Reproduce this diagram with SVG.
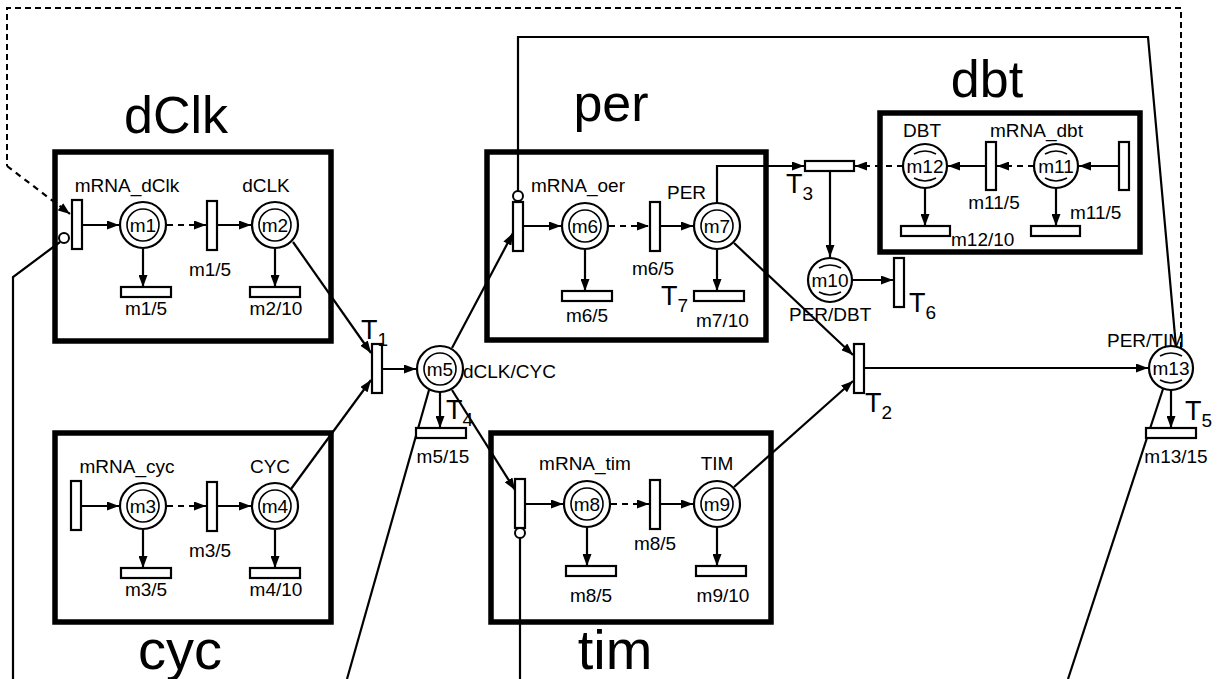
<svg xmlns="http://www.w3.org/2000/svg" width="1229" height="679" viewBox="0 0 1229 679">
<defs>
<marker id="ah" viewBox="0 0 12 9" refX="12" refY="4.5" markerWidth="12" markerHeight="9" markerUnits="userSpaceOnUse" orient="auto"><path d="M0,0 L12,4.5 L0,9 z" fill="#000"/></marker>
<style>
.box{fill:none;stroke:#000;stroke-width:5.5}
.tr{fill:#fff;stroke:#000;stroke-width:2.2}
.pl{fill:#fff;stroke:#000;stroke-width:2.2}
.in{fill:none;stroke:#000;stroke-width:1.6}
.ln{fill:none;stroke:#000;stroke-width:2.2}
.ar{fill:none;stroke:#000;stroke-width:2.2;marker-end:url(#ah)}
.da{fill:none;stroke:#000;stroke-width:2.2;stroke-dasharray:6,5;marker-end:url(#ah)}
.dl{fill:none;stroke:#000;stroke-width:2;stroke-dasharray:6,4}
.inh{fill:#fff;stroke:#000;stroke-width:2}
text{font-family:"Liberation Sans",Arial,sans-serif;fill:#000}
.t{font-size:19px}
.c{font-size:19px;text-anchor:middle}
.big{font-size:52px;text-anchor:middle}
.bot{font-size:56px;text-anchor:middle}
.T{font-size:27px}
.s{font-size:19px}
</style>
</defs>
<rect width="1229" height="679" fill="#fff"/>

<g id="connectors">
<path class="dl" d="M1181,348 V8 H7 V166"/>
<path class="da" d="M7,166 L70,214"/>
<path class="ln" d="M60,242 L13,277 V679"/>
<path class="ln" d="M518,191 V37 H1148 L1176,347"/>
<path class="ln" d="M520,538 V679"/>
<path class="ln" d="M429,390 L347,679"/>
<path class="ln" d="M1163,389 L1068,679"/>
<path class="ar" d="M293,242 L371,353"/>
<path class="ar" d="M291,489 L371,380"/>
<path class="ar" d="M382,369 L416,369"/>
<path class="ar" d="M452,348 L513,233"/>
<path class="ar" d="M452,390 L515,490"/>
<path class="ar" d="M440,392 L440,428"/>
<path class="ar" d="M717,203 V166 H804"/>
<path class="da" d="M903,166 H855"/>
<path class="ar" d="M830,171 V257"/>
<path class="ar" d="M852,280 H893"/>
<path class="ar" d="M734,243 L853,355"/>
<path class="ar" d="M734,487 L853,381"/>
<path class="ar" d="M864,368 H1148"/>
<path class="ar" d="M1171,390 V428"/>
<path class="ar" d="M82,225 H119"/>
<path class="da" d="M167,225 H206"/>
<path class="ar" d="M217,225 H251"/>
<path class="ar" d="M143,249 V287"/>
<path class="ar" d="M275,249 V287"/>
<path class="ar" d="M82,506 H119"/>
<path class="da" d="M167,506 H206"/>
<path class="ar" d="M217,506 H251"/>
<path class="ar" d="M143,530 V568"/>
<path class="ar" d="M275,530 V568"/>
<path class="ar" d="M523,226 H561"/>
<path class="da" d="M609,226 H649"/>
<path class="ar" d="M660,226 H693"/>
<path class="ar" d="M585,250 V291"/>
<path class="ar" d="M717,250 V291"/>
<path class="ar" d="M525,504 H563"/>
<path class="da" d="M611,504 H649"/>
<path class="ar" d="M660,504 H693"/>
<path class="ar" d="M587,528 V566"/>
<path class="ar" d="M717,528 V566"/>
<path class="ar" d="M1119,166 H1079"/>
<path class="da" d="M1034,166 H997"/>
<path class="ar" d="M986,166 H948"/>
<path class="ar" d="M925,188 V226"/>
<path class="ar" d="M1056,188 V226"/>
</g>

<g id="module-dClk">
<rect class="box" x="55" y="152" width="276" height="189"/>
<text class="big" x="176" y="133">dClk</text>
<text class="c" x="127" y="192">mRNA_dClk</text>
<text class="c" x="266" y="192">dCLK</text>
<rect class="tr" x="72" y="200" width="10" height="49"/>
<circle class="inh" cx="64" cy="238" r="5"/>
<rect class="tr" x="207" y="201" width="10" height="49"/>
<rect class="tr" x="121" y="287" width="50" height="10"/>
<rect class="tr" x="250" y="287" width="50" height="10"/>
<text class="c" x="210" y="276">m1/5</text>
<text class="c" x="146" y="315">m1/5</text>
<text class="c" x="276" y="315">m2/10</text>
</g>
<g id="m1"><circle class="pl" cx="143" cy="225" r="23"/><circle class="in" cx="143" cy="225" r="16"/><text class="c" x="143" y="232">m1</text></g>
<g id="m2"><circle class="pl" cx="275" cy="225" r="23"/><circle class="in" cx="275" cy="225" r="16"/><text class="c" x="275" y="232">m2</text></g>

<g id="module-cyc">
<rect class="box" x="55" y="433" width="276" height="189"/>
<text class="bot" x="180" y="669">cyc</text>
<text class="c" x="127" y="473">mRNA_cyc</text>
<text class="c" x="270" y="473">CYC</text>
<rect class="tr" x="71" y="481" width="10" height="49"/>
<rect class="tr" x="207" y="482" width="10" height="49"/>
<rect class="tr" x="121" y="568" width="50" height="10"/>
<rect class="tr" x="250" y="568" width="50" height="10"/>
<text class="c" x="210" y="557">m3/5</text>
<text class="c" x="146" y="596">m3/5</text>
<text class="c" x="276" y="596">m4/10</text>
</g>
<g id="m3"><circle class="pl" cx="143" cy="506" r="23"/><circle class="in" cx="143" cy="506" r="16"/><text class="c" x="143" y="513">m3</text></g>
<g id="m4"><circle class="pl" cx="275" cy="506" r="23"/><circle class="in" cx="275" cy="506" r="16"/><text class="c" x="275" y="513">m4</text></g>

<g id="T1"><rect class="tr" x="372" y="344" width="10" height="49"/><text class="T" x="361" y="339">T<tspan class="s" dy="7">1</tspan></text></g>
<g id="m5"><circle class="pl" cx="440" cy="369" r="23"/><circle class="in" cx="440" cy="369" r="16"/><text class="c" x="440" y="376">m5</text><text class="t" x="463" y="378">dCLK/CYC</text></g>
<g id="T4"><rect class="tr" x="416" y="428" width="50" height="10"/><text class="T" x="446" y="419">T<tspan class="s" dy="7">4</tspan></text><text class="c" x="443" y="463">m5/15</text></g>

<g id="module-per">
<rect class="box" x="487" y="152" width="279" height="188"/>
<text class="big" x="611" y="121">per</text>
<text class="t" x="531" y="192">mRNA_oer</text>
<text class="t" x="667" y="199">PER</text>
<rect class="tr" x="513" y="202" width="10" height="49"/>
<circle class="inh" cx="518" cy="196" r="5"/>
<rect class="tr" x="650" y="202" width="10" height="49"/>
<rect class="tr" x="562" y="291" width="50" height="10"/>
<rect class="tr" x="694" y="291" width="50" height="10"/>
<text class="c" x="653" y="275">m6/5</text>
<text class="c" x="587" y="322">m6/5</text>
<text class="T" x="661" y="305">T<tspan class="s" dy="7">7</tspan></text>
<text class="t" x="696" y="327">m7/10</text>
</g>
<g id="m6"><circle class="pl" cx="585" cy="226" r="23"/><circle class="in" cx="585" cy="226" r="16"/><text class="c" x="585" y="233">m6</text></g>
<g id="m7"><circle class="pl" cx="717" cy="226" r="23"/><circle class="in" cx="717" cy="226" r="16"/><text class="c" x="717" y="233">m7</text></g>

<g id="module-tim">
<rect class="box" x="491" y="433" width="280" height="189"/>
<text class="bot" x="615" y="669">tim</text>
<text class="c" x="585" y="470">mRNA_tim</text>
<text class="c" x="717" y="470">TIM</text>
<rect class="tr" x="515" y="479" width="10" height="49"/>
<circle class="inh" cx="520" cy="533" r="5"/>
<rect class="tr" x="650" y="480" width="10" height="49"/>
<rect class="tr" x="566" y="566" width="50" height="10"/>
<rect class="tr" x="696" y="566" width="50" height="10"/>
<text class="c" x="655" y="550">m8/5</text>
<text class="c" x="591" y="602">m8/5</text>
<text class="c" x="723" y="602">m9/10</text>
</g>
<g id="m8"><circle class="pl" cx="587" cy="504" r="23"/><circle class="in" cx="587" cy="504" r="16"/><text class="c" x="587" y="511">m8</text></g>
<g id="m9"><circle class="pl" cx="717" cy="504" r="23"/><circle class="in" cx="717" cy="504" r="16"/><text class="c" x="717" y="511">m9</text></g>

<g id="T3"><rect class="tr" x="805" y="161" width="49" height="10"/><text class="T" x="786" y="193">T<tspan class="s" dy="7">3</tspan></text></g>
<g id="m10"><circle class="pl" cx="830" cy="280" r="22"/><path class="in" d="M819,268 Q830,262 841,268 M819,292 Q830,298 841,292"/><text class="c" x="830" y="287">m10</text><text class="t" x="789" y="321">PER/DBT</text></g>
<g id="T6"><rect class="tr" x="894" y="258" width="10" height="49"/><text class="T" x="909" y="312">T<tspan class="s" dy="7">6</tspan></text></g>
<g id="T2"><rect class="tr" x="854" y="344" width="10" height="49"/><text class="T" x="865" y="412">T<tspan class="s" dy="7">2</tspan></text></g>

<g id="module-dbt">
<rect class="box" x="880" y="113" width="260" height="139"/>
<text class="big" x="987" y="97">dbt</text>
<text class="t" x="903" y="137">DBT</text>
<text class="t" x="990" y="137">mRNA_dbt</text>
<rect class="tr" x="1119" y="142" width="10" height="48"/>
<rect class="tr" x="986" y="142" width="10" height="48"/>
<rect class="tr" x="901" y="226" width="49" height="10"/>
<rect class="tr" x="1031" y="226" width="49" height="10"/>
<text class="c" x="994" y="209">m11/5</text>
<text class="t" x="1070" y="219">m11/5</text>
<text class="t" x="951" y="246">m12/10</text>
</g>
<g id="m12"><circle class="pl" cx="925" cy="166" r="22"/><path class="in" d="M914,154 Q925,148 936,154 M914,178 Q925,184 936,178"/><text class="c" x="925" y="173">m12</text></g>
<g id="m11"><circle class="pl" cx="1056" cy="166" r="22"/><path class="in" d="M1045,154 Q1056,148 1067,154 M1045,178 Q1056,184 1067,178"/><text class="c" x="1056" y="173">m11</text></g>

<g id="m13"><circle class="pl" cx="1171" cy="368" r="22"/><path class="in" d="M1160,356 Q1171,350 1182,356 M1160,380 Q1171,386 1182,380"/><text class="c" x="1171" y="375">m13</text><text class="t" x="1107" y="347">PER/TIM</text></g>
<g id="T5"><rect class="tr" x="1146" y="428" width="50" height="10"/><text class="T" x="1185" y="420">T<tspan class="s" dy="7">5</tspan></text><text class="c" x="1176" y="463">m13/15</text></g>
</svg>
